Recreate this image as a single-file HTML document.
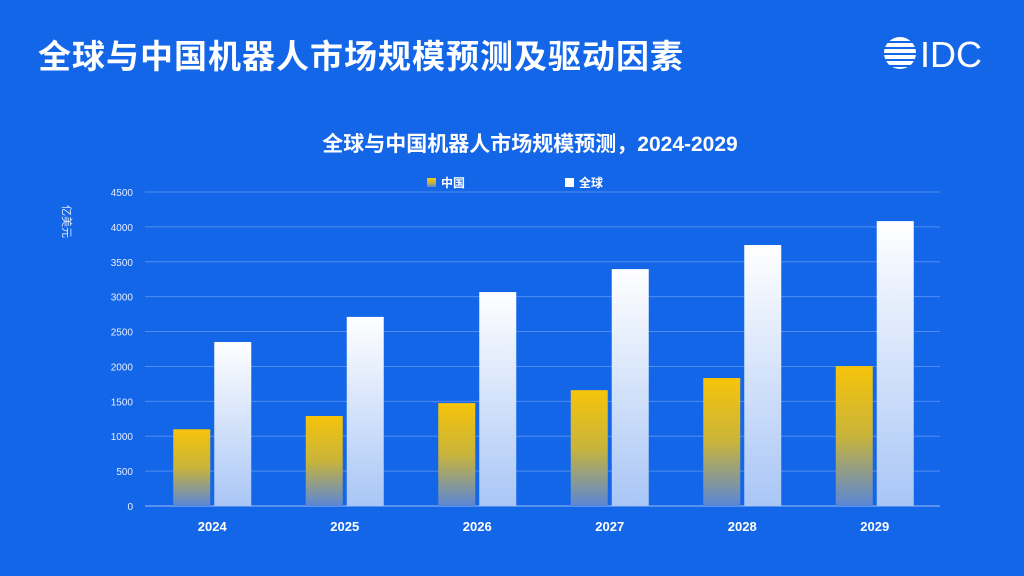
<!DOCTYPE html>
<html><head><meta charset="utf-8">
<style>
html,body{margin:0;padding:0;}
body{width:1024px;height:576px;background:#1466e9;overflow:hidden;position:relative;font-family:"Liberation Sans","Noto Sans CJK SC",sans-serif;color:#fff;}
#title{position:absolute;left:38px;top:30px;font-size:33px;font-weight:bold;letter-spacing:1px;white-space:nowrap;}
#logo{position:absolute;left:882px;top:32px;}
</style></head><body>
<div id="title">全球与中国机器人市场规模预测及驱动因素</div>
<svg id="logo" width="110" height="44">
<defs><clipPath id="c"><circle cx="18" cy="21" r="16"/></clipPath></defs>
<g clip-path="url(#c)" fill="#fff">
<rect x="0" y="5" width="36" height="4"/><rect x="0" y="11" width="36" height="4"/><rect x="0" y="17" width="36" height="4"/><rect x="0" y="23" width="36" height="4"/><rect x="0" y="29" width="36" height="4"/><rect x="0" y="35" width="36" height="4"/>
</g>
<text x="38" y="35" font-size="36" fill="#fff" font-family="Liberation Sans, sans-serif">IDC</text>
</svg>
<svg id="chart" width="1024" height="576" style="position:absolute;left:0;top:0">
<defs>
<linearGradient id="gc" x1="0" y1="0" x2="0" y2="1"><stop offset="0" stop-color="#f6c40a"/><stop offset="0.5" stop-color="#c9b43a"/><stop offset="1" stop-color="#5a86d6"/></linearGradient>
<linearGradient id="gg" x1="0" y1="0" x2="0" y2="1"><stop offset="0" stop-color="#ffffff"/><stop offset="1" stop-color="#a9c6f6"/></linearGradient>
</defs>
<text x="530" y="151" text-anchor="middle" font-size="21" font-weight="bold" fill="#fff">全球与中国机器人市场规模预测，2024-2029</text>
<g>
<rect x="427" y="178" width="9" height="9" fill="url(#gc)"/>
<text x="441" y="187" font-size="12" font-weight="bold" fill="#fff">中国</text>
<rect x="565" y="178" width="9" height="9" fill="#fff"/>
<text x="579" y="187" font-size="12" font-weight="bold" fill="#fff">全球</text>
</g>
<text transform="translate(63,205) rotate(90)" font-size="11" fill="#dfe9ff">亿美元</text>
<g id="grid"></g><g id="bars"></g><g id="labels"></g>
</svg>
<script>
const categories=["2024","2025","2026","2027","2028","2029"];
const chinaValues=[1100,1290,1475,1660,1834,2005];
const globalValues=[2350,2710,3066,3395,3740,4083];
const yTicks=[0,500,1000,1500,2000,2500,3000,3500,4000,4500];
const NS="http://www.w3.org/2000/svg";
const x0=145,x1=940,yb=506,yt=192,ymax=4500;
const y=v=>yb-(v/ymax)*(yb-yt);
const band=(x1-x0)/categories.length;
const grid=document.getElementById('grid'),bars=document.getElementById('bars'),labels=document.getElementById('labels');
function mk(tag,attrs,parent){const e=document.createElementNS(NS,tag);for(const k in attrs)e.setAttribute(k,attrs[k]);parent.appendChild(e);return e;}
yTicks.forEach(t=>{
 const l=mk('line',{x1:x0,x2:x1,y1:y(t),y2:y(t),stroke:t===0?'#9dbdf5':'#4f8cf0','stroke-width':1},grid);
 
 
 const tx=mk('text',{x:133,y:y(t)+4,'text-anchor':'end','font-size':10,fill:'#e6eeff'},grid);
 tx.textContent=t;
 
 
});
categories.forEach((c,i)=>{
 const cx=x0+band*(i+0.5)+3;
 const bw=37;
 const r1=mk('rect',{x:cx-bw-4,y:y(chinaValues[i]),width:bw,height:yb-y(chinaValues[i]),fill:'url(#gc)'},bars);
 
 
 const r2=mk('rect',{x:cx,y:y(globalValues[i]),width:bw,height:yb-y(globalValues[i]),fill:'url(#gg)'},bars);
 
 
 const t=mk('text',{x:cx-2,y:531,'text-anchor':'middle','font-size':13,'font-weight':'bold',fill:'#fff'},labels);
 t.textContent=c;
 
 
});
</script>
</body></html>
